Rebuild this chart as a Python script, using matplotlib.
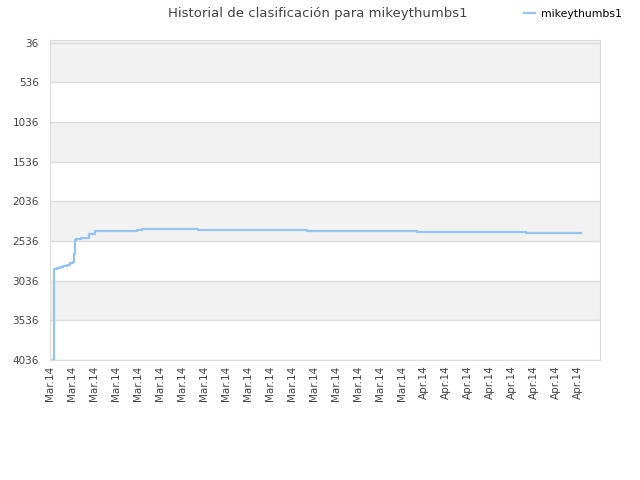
import datetime as dt
import numpy as np
import matplotlib
matplotlib.use("Agg")
from matplotlib import pyplot as plt
import matplotlib.dates as mdates

player = "mikeythumbs1"
title = "Historial de clasificación para mikeythumbs1"

start = dt.datetime(2014, 3, 1)
# days since start, rank at that moment
days = [0.26, 0.30, 0.37, 0.56, 0.83, 1.11, 1.39, 1.67, 1.94, 2.04, 2.13, 2.22,
        2.59, 2.96, 3.24, 3.52, 3.79, 7.31, 7.77, 12.45, 21.61, 30.86, 40.03, 44.66]
ranks = [4036, 3060, 2890, 2880, 2865, 2850, 2835, 2815, 2800, 2700, 2520, 2505,
         2498, 2494, 2450, 2448, 2405, 2395, 2381, 2394, 2406, 2418, 2431, 2431]

yticks = [36, 536, 1036, 1536, 2036, 2536, 3036, 3536, 4036]
tick_step = 1.85   # days between x labels
n_xticks = 25

dates = [start + dt.timedelta(days=d) for d in days]
xticks = [start + dt.timedelta(days=i * tick_step) for i in range(n_xticks)]

fig = plt.figure(figsize=(6.4, 4.8), dpi=100)
ax = fig.add_axes([50 / 640, 120 / 480, 550 / 640, 320 / 480])

# alternating bands
ax.axhspan(0, 536, color="#f2f2f2", zorder=0, lw=0)
for lo in [1036, 2036, 3036]:
    ax.axhspan(lo, lo + 500, color="#f2f2f2", zorder=0, lw=0)
for y in yticks:
    ax.axhline(y, color="#dddddd", lw=1, zorder=1)

ax.plot(dates, ranks, drawstyle="steps-post", color="#95c3f2", lw=1.6,
        zorder=3, label=player)

ax.set_ylim(4036, 0)
ax.set_xlim(start, start + dt.timedelta(days=n_xticks * tick_step))
ax.set_yticks(yticks)
ax.set_xticks(xticks)
ax.xaxis.set_major_formatter(mdates.DateFormatter("%b.%y"))
ax.tick_params(axis="x", labelrotation=90, length=0, labelsize=7.5,
               labelcolor="#444444", pad=4)
ax.tick_params(axis="y", length=0, labelsize=7.5, labelcolor="#444444", pad=8)
for s in ax.spines.values():
    s.set_color("#dddddd")

fig.text(0.497, 0.972, title, ha="center", va="center", fontsize=9.5,
         color="#444444")
fig.legend(loc="center", bbox_to_anchor=(0.895, 0.971),
           frameon=False, fontsize=7.8, handlelength=1.0, handletextpad=0.6)

fig.savefig("out.png", dpi=100)
